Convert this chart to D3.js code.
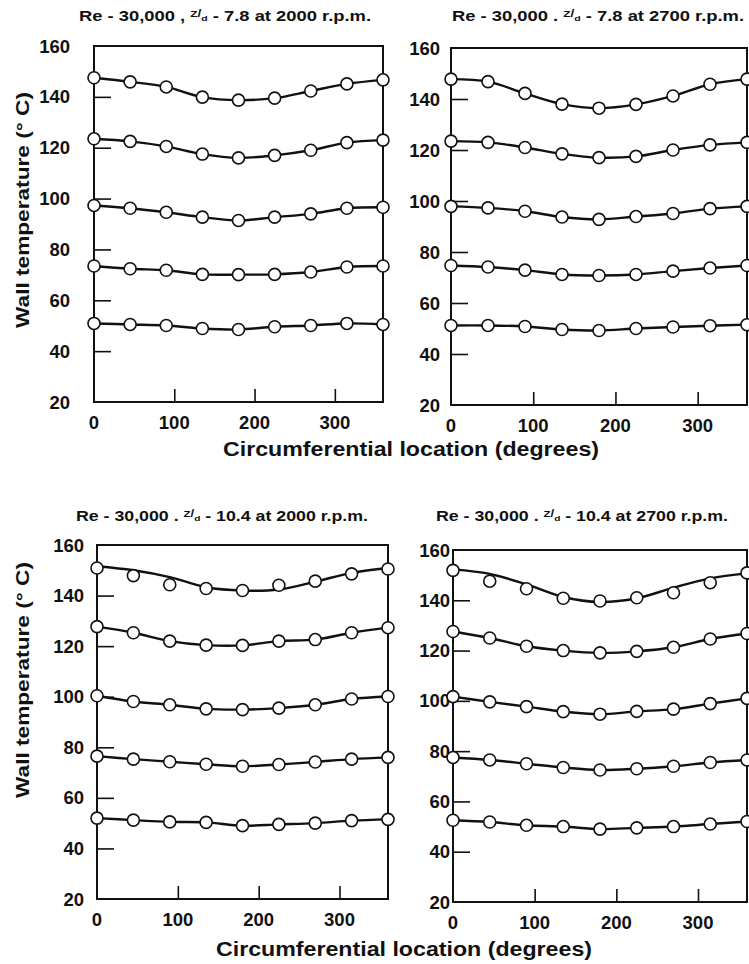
<!DOCTYPE html>
<html>
<head>
<meta charset="utf-8">
<script src="https://cdn.jsdelivr.net/npm/d3@7"></script>
<style>
  html, body { margin: 0; padding: 0; background: #fff; }
  svg text { font-family: "Liberation Sans", Arial, Helvetica, sans-serif; font-weight: bold; fill: #111; }
</style>
</head>
<body>
<svg id="chart" width="749" height="964"></svg>
<script>
// ---- data ----
const angles = [0, 45, 90, 135, 180, 225, 270, 315, 360];
const yTickValues = [40, 60, 80, 100, 120, 140];
const yTickLabels = [20, 40, 60, 80, 100, 120, 140, 160];
const xTickValues = [100, 200, 300];
const xTickLabels = [0, 100, 200, 300];

const titles = [
  ["Re - 30,000 , ", "7.8 at 2000 r.p.m."],
  ["Re - 30,000 . ", "7.8 at 2700 r.p.m."],
  ["Re - 30,000 . ", "10.4 at 2000 r.p.m."],
  ["Re - 30,000 . ", "10.4 at 2700 r.p.m."]
];
const xAxisTitle = "Circumferential location (degrees)";
const yAxisTitle = "Wall temperature (° C)";

// top-left: Z/d = 7.8, 2000 rpm
const tl1 = [147.5, 145.9, 143.9, 139.9, 138.7, 139.5, 142.3, 145.1, 146.7];
const tl2 = [123.5, 122.5, 120.5, 117.5, 116.0, 117.0, 119.0, 122.0, 123.0];
const tl3 = [97.3, 96.2, 94.6, 92.7, 91.4, 92.7, 94.0, 96.2, 96.6];
const tl4 = [73.5, 72.4, 71.8, 70.2, 70.1, 70.2, 71.1, 73.1, 73.5];
const tl5 = [50.9, 50.5, 50.1, 48.9, 48.5, 49.6, 50.1, 50.9, 50.5];
// top-right: Z/d = 7.8, 2700 rpm
const tr1 = [147.8, 146.8, 142.2, 138.0, 136.4, 137.9, 141.2, 145.8, 147.8];
const tr2 = [123.5, 123.0, 121.0, 118.5, 117.0, 117.5, 120.0, 122.0, 123.0];
const tr3 = [97.9, 97.3, 96.0, 93.7, 92.8, 93.9, 95.1, 97.0, 97.9];
const tr4 = [74.7, 74.1, 72.9, 71.2, 70.8, 71.2, 72.5, 73.7, 74.7];
const tr5 = [51.2, 51.2, 50.8, 49.6, 49.2, 50.0, 50.6, 51.1, 51.5];
// bottom-left: Z/d = 10.4, 2000 rpm
const bl1 = [150.9, 147.9, 144.3, 142.8, 142.0, 144.1, 145.7, 148.6, 150.5];
const blFit1 = [151.6, 150.0, 147.3, 143.3, 142.0, 142.4, 145.5, 149.0, 150.9];
const bl2 = [127.7, 125.3, 122.0, 120.4, 120.3, 122.0, 122.6, 125.3, 127.3];
const bl3 = [100.4, 98.1, 96.8, 95.2, 94.9, 95.5, 96.8, 99.1, 100.1];
const bl4 = [76.5, 75.3, 74.3, 73.3, 72.5, 73.2, 74.2, 75.3, 76.0];
const bl5 = [52.0, 51.2, 50.5, 50.3, 49.0, 49.5, 50.0, 51.0, 51.5];
// bottom-right: Z/d = 10.4, 2700 rpm
const br1 = [151.9, 147.6, 144.6, 140.8, 139.7, 141.0, 143.0, 147.0, 150.9];
const brFit1 = [152.3, 150.5, 146.3, 141.3, 139.3, 140.8, 145.0, 148.7, 150.7];
const br2 = [127.6, 125.0, 121.7, 120.0, 119.1, 119.7, 121.3, 124.6, 126.8];
const br3 = [101.7, 99.6, 97.7, 95.7, 94.7, 95.8, 96.7, 98.9, 101.0];
const br4 = [77.5, 76.5, 75.0, 73.5, 72.5, 73.0, 74.0, 75.5, 76.5];
const br5 = [52.5, 51.8, 50.5, 50.0, 49.0, 49.5, 50.0, 51.0, 52.0];

// ---- layout ----
const panels = [
  { x0: 94, x1: 383, yTop: 46, yBot: 402, title: titles[0], tx: 225, ty: 21, labelRight: 70,
    series: [tl1, tl2, tl3, tl4, tl5], fits: [tl1, tl2, tl3, tl4, tl5] },
  { x0: 451, x1: 747, yTop: 48, yBot: 405, title: titles[1], tx: 598, ty: 21, labelRight: 440,
    series: [tr1, tr2, tr3, tr4, tr5], fits: [tr1, tr2, tr3, tr4, tr5] },
  { x0: 97, x1: 388, yTop: 545, yBot: 899, title: titles[2], tx: 222, ty: 521, labelRight: 84,
    series: [bl1, bl2, bl3, bl4, bl5], fits: [blFit1, bl2, bl3, bl4, bl5] },
  { x0: 453, x1: 747, yTop: 550, yBot: 902, title: titles[3], tx: 582, ty: 521, labelRight: 450,
    series: [br1, br2, br3, br4, br5], fits: [brFit1, br2, br3, br4, br5] }
];

const svg = d3.select("#chart");

panels.forEach(p => {
  const x = d3.scaleLinear().domain([0, 360]).range([p.x0, p.x1]);
  const y = d3.scaleLinear().domain([20, 160]).range([p.yBot, p.yTop]);
  const g = svg.append("g");

  // title
  const t = g.append("text").attr("x", p.tx).attr("y", p.ty)
    .attr("text-anchor", "middle").attr("font-size", 14)
    .attr("textLength", 292).attr("lengthAdjust", "spacingAndGlyphs");
  t.append("tspan").text(p.title[0]);
  t.append("tspan").attr("font-size", 9).attr("dy", -4).text("Z");
  t.append("tspan").attr("font-size", 10.5).attr("dy", 0).text("/");
  t.append("tspan").attr("font-size", 8).attr("dy", 4).text("d");
  t.append("tspan").text(" - " + p.title[1]);

  // frame
  g.append("rect").attr("x", p.x0).attr("y", p.yTop)
    .attr("width", p.x1 - p.x0).attr("height", p.yBot - p.yTop)
    .attr("fill", "none").attr("stroke", "#111").attr("stroke-width", 2);

  // y ticks (inward)
  const yAxis = d3.axisRight(y).tickValues(yTickValues).tickSize(17).tickFormat("");
  g.append("g").attr("transform", `translate(${p.x0},0)`).call(yAxis)
    .call(a => a.select(".domain").remove())
    .call(a => a.selectAll("line").attr("stroke", "#111").attr("stroke-width", 1.6));
  // x ticks (inward, upward)
  const xAxis = d3.axisTop(x).tickValues(xTickValues).tickSize(13).tickFormat("");
  g.append("g").attr("transform", `translate(0,${p.yBot})`).call(xAxis)
    .call(a => a.select(".domain").remove())
    .call(a => a.selectAll("line").attr("stroke", "#111").attr("stroke-width", 1.6));

  // y tick labels
  g.selectAll(".ylab").data(yTickLabels).enter().append("text")
    .attr("x", p.labelRight).attr("y", d => y(d) + 6.5)
    .attr("text-anchor", "end").attr("font-size", 18.5).text(d => d);
  // x tick labels
  g.selectAll(".xlab").data(xTickLabels).enter().append("text")
    .attr("x", d => x(d)).attr("y", p.yBot + 27)
    .attr("text-anchor", "middle").attr("font-size", 18.5).text(d => d);

  // curves
  const line = d3.line().x((d, i) => x(angles[i])).y(d => y(d)).curve(d3.curveCatmullRom.alpha(0.5));
  p.fits.forEach(s => {
    g.append("path").attr("d", line(s)).attr("fill", "none")
      .attr("stroke", "#111").attr("stroke-width", 2.4);
  });
  p.series.forEach(s => {
    g.selectAll(null).data(s).enter().append("circle")
      .attr("cx", (d, i) => x(angles[i])).attr("cy", d => y(d)).attr("r", 6)
      .attr("fill", "#fff").attr("stroke", "#111").attr("stroke-width", 1.6);
  });
});

// axis titles
[{ x: 411, y: 456 }, { x: 404, y: 956 }].forEach(pos => {
  svg.append("text").attr("x", pos.x).attr("y", pos.y).attr("text-anchor", "middle")
    .attr("font-size", 19.5).attr("textLength", 376).attr("lengthAdjust", "spacingAndGlyphs")
    .text(xAxisTitle);
});
[210, 680].forEach(cy => {
  svg.append("text").attr("transform", `translate(29,${cy}) rotate(-90)`)
    .attr("text-anchor", "middle").attr("font-size", 17.5)
    .attr("textLength", 236).attr("lengthAdjust", "spacingAndGlyphs").text(yAxisTitle);
});
</script>
</body>
</html>
